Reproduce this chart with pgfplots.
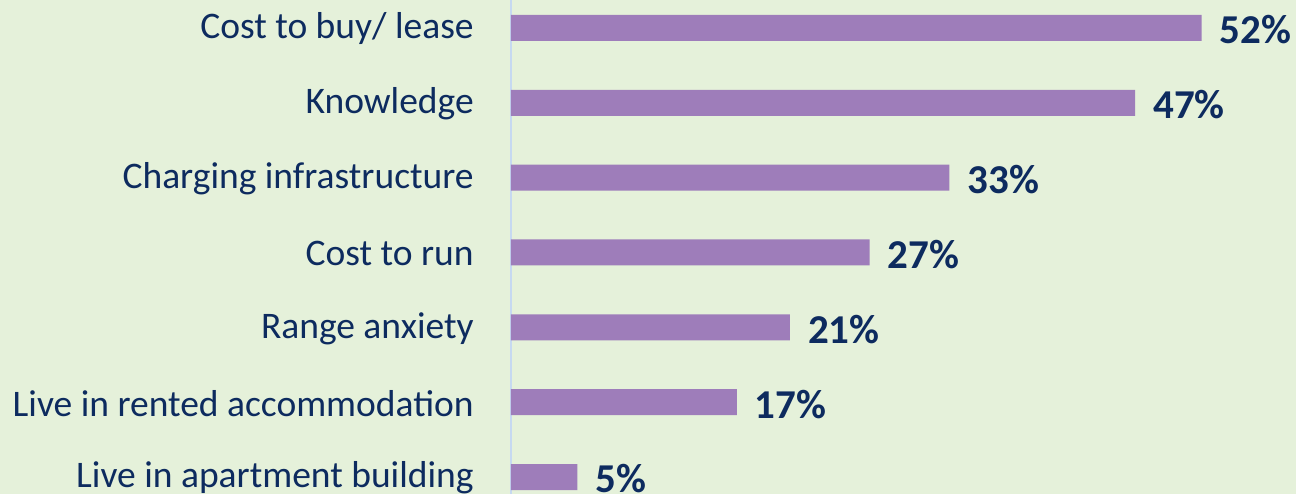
\documentclass[border=0pt]{standalone}
\usepackage{pgfplots}
\pgfplotsset{compat=1.18}
\usepackage{fontspec}
\setmainfont{Carlito}
\definecolor{bg}{HTML}{E5F1DA}
\definecolor{barc}{HTML}{9E7DBA}
\definecolor{navy}{HTML}{0D2B5F}
\definecolor{axblue}{HTML}{C6D9F1}
\begin{document}
\begin{tikzpicture}
\fill[bg] (0,0) rectangle (1296pt,494pt);
\begin{axis}[
  at={(511pt,0pt)}, anchor=south west,
  scale only axis, width=785pt, height=494pt,
  xbar, bar width=26pt,
  xmin=0, xmax=59.11, ymin=-0.227, ymax=6.374,
  axis x line=none, axis y line=left,
  y axis line style={-, draw=axblue, line width=1.5pt},
  ytick={0,...,6}, ytick style={draw=none},
  yticklabels={Live in apartment building, Live in rented accommodation, Range anxiety, Cost to run, Charging infrastructure, Knowledge, Cost to buy/ lease},
  yticklabel style={anchor=east, inner sep=0pt, xshift=-35pt, yshift=-1pt, text=navy, font=\fontsize{37.5}{45}\selectfont},
  clip=false,
  /pgf/number format/assume math mode=true,
  nodes near coords={\pgfmathprintnumber{\pgfplotspointmeta}\%},
  nodes near coords style={anchor=west, inner sep=0pt, xshift=18pt, yshift=-2pt, text=navy, font=\fontsize{41}{49}\selectfont\bfseries},
]
\addplot[fill=barc, draw=none] coordinates {(5,0) (17,1) (21,2) (27,3) (33,4) (47,5) (52,6)};
\end{axis}
\pgfresetboundingbox
\path[use as bounding box] (0,0) rectangle (1296pt,494pt);
\end{tikzpicture}
\end{document}
